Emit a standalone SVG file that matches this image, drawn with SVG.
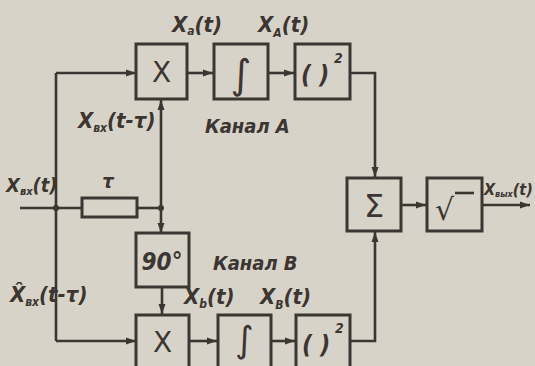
<svg xmlns="http://www.w3.org/2000/svg" width="535" height="366" viewBox="0 0 535 366">
<defs>
<style>
.bg{fill:#d8d3c8}
.box{fill:none;stroke:#3b3632;stroke-width:3}
.ln{fill:none;stroke:#3b3632;stroke-width:2.6}
.ar{fill:none;stroke:#3b3632;stroke-width:2.6;marker-end:url(#ah)}
.t{font-family:"DejaVu Sans","Liberation Sans",sans-serif;font-style:italic;font-weight:bold;fill:#3b3632;font-stretch:condensed}
.s{font-family:"DejaVu Sans","Liberation Sans",sans-serif;fill:#3b3632}
.dot{fill:#3b3632}
</style>
<marker id="ah" viewBox="0 0 10 8" refX="10" refY="4" markerWidth="10" markerHeight="8" markerUnits="userSpaceOnUse" orient="auto">
<path d="M0,0.5 L10,4 L0,7.5 z" fill="#3b3632"/>
</marker>
</defs>
<rect class="bg" x="0" y="0" width="535" height="366"/>

<g id="connectors">
<polyline class="ln" points="56,73 56,341"/>
<line class="ar" x1="56" y1="73" x2="136" y2="73"/>
<line class="ar" x1="56" y1="341" x2="136" y2="341"/>
<line class="ln" x1="20" y1="208" x2="82" y2="208"/>
<line class="ln" x1="137" y1="208" x2="161" y2="208"/>
<line class="ar" x1="161" y1="208" x2="161" y2="100"/>
<line class="ar" x1="161" y1="208" x2="161" y2="233"/>
<line class="ar" x1="162" y1="287" x2="162" y2="314"/>
<line class="ar" x1="187" y1="73" x2="213" y2="73"/>
<line class="ar" x1="268" y1="73" x2="294" y2="73"/>
<polyline class="ar" points="350,73 375,73 375,177"/>
<line class="ar" x1="189" y1="341" x2="217" y2="341"/>
<line class="ar" x1="271" y1="341" x2="295" y2="341"/>
<polyline class="ar" points="350,341 375,341 375,232"/>
<line class="ar" x1="401" y1="205" x2="426" y2="205"/>
<line class="ar" x1="482" y1="205" x2="530" y2="205"/>
<circle class="dot" cx="56" cy="208" r="3"/>
<circle class="dot" cx="161" cy="208" r="3"/>
</g>

<g id="mulA">
<rect class="box" x="136" y="44" width="51" height="55"/>
<text class="s" x="161.5" y="82" font-size="28" text-anchor="middle">X</text>
</g>
<g id="intA">
<rect class="box" x="214" y="44" width="54" height="55"/>
<text class="s" x="241" y="88" font-size="40" text-anchor="middle">∫</text>
</g>
<g id="sqA">
<rect class="box" x="295" y="44" width="55" height="55"/>
<text class="t" x="301" y="83" font-size="25">( )</text>
<text class="t" x="334" y="63" font-size="14">2</text>
</g>

<g id="delay">
<rect class="box" x="82" y="198" width="55" height="19"/>
<text class="t" x="108" y="188" font-size="20" text-anchor="middle">τ</text>
</g>

<g id="shift90">
<rect class="box" x="136" y="233" width="53" height="54"/>
<text class="t" x="162" y="270" font-size="24" text-anchor="middle">90°</text>
</g>

<g id="mulB">
<rect class="box" x="136" y="315" width="53" height="55"/>
<text class="s" x="162.5" y="352" font-size="28" text-anchor="middle">X</text>
</g>
<g id="intB">
<rect class="box" x="218" y="315" width="53" height="55"/>
<text class="s" x="244.5" y="352" font-size="36" text-anchor="middle">∫</text>
</g>
<g id="sqB">
<rect class="box" x="296" y="315" width="54" height="55"/>
<text class="t" x="302" y="353" font-size="25">( )</text>
<text class="t" x="335" y="333" font-size="14">2</text>
</g>

<g id="sum">
<rect class="box" x="347" y="178" width="54" height="53"/>
<text class="s" x="374" y="217" font-size="32" text-anchor="middle">Σ</text>
</g>
<g id="sqrt">
<rect class="box" x="427" y="178" width="55" height="53"/>
<text class="s" x="435" y="220" font-size="30">√</text>
<line class="ln" x1="455" y1="193" x2="474" y2="193"/>
</g>

<g id="labels">
<text class="t" x="172" y="32" font-size="22">X<tspan font-size="12" dy="3">a</tspan><tspan dy="-3">(t)</tspan></text>
<text class="t" x="258" y="32" font-size="22">X<tspan font-size="12" dy="5">A</tspan><tspan dy="-5">(t)</tspan></text>
<text class="t" x="78" y="128" font-size="22">X<tspan font-size="12" dy="4">вх</tspan><tspan dy="-4">(t-τ)</tspan></text>
<text class="t" x="205" y="133" font-size="20">Канал A</text>
<text class="t" x="6" y="192" font-size="20">X<tspan font-size="11" dy="3">вх</tspan><tspan dy="-3">(t)</tspan></text>
<text class="t" x="213" y="270" font-size="20">Канал B</text>
<text class="t" x="10" y="302" font-size="22">X̂<tspan font-size="12" dy="4">вх</tspan><tspan dy="-4">(t-τ)</tspan></text>
<text class="t" x="184" y="304" font-size="22">X<tspan font-size="12" dy="4">b</tspan><tspan dy="-4">(t)</tspan></text>
<text class="t" x="260" y="304" font-size="22">X<tspan font-size="12" dy="5">B</tspan><tspan dy="-5">(t)</tspan></text>
<text class="t" x="484" y="195" font-size="16">X<tspan font-size="9" dy="2">вых</tspan><tspan dy="-2">(t)</tspan></text>
</g>
</svg>
